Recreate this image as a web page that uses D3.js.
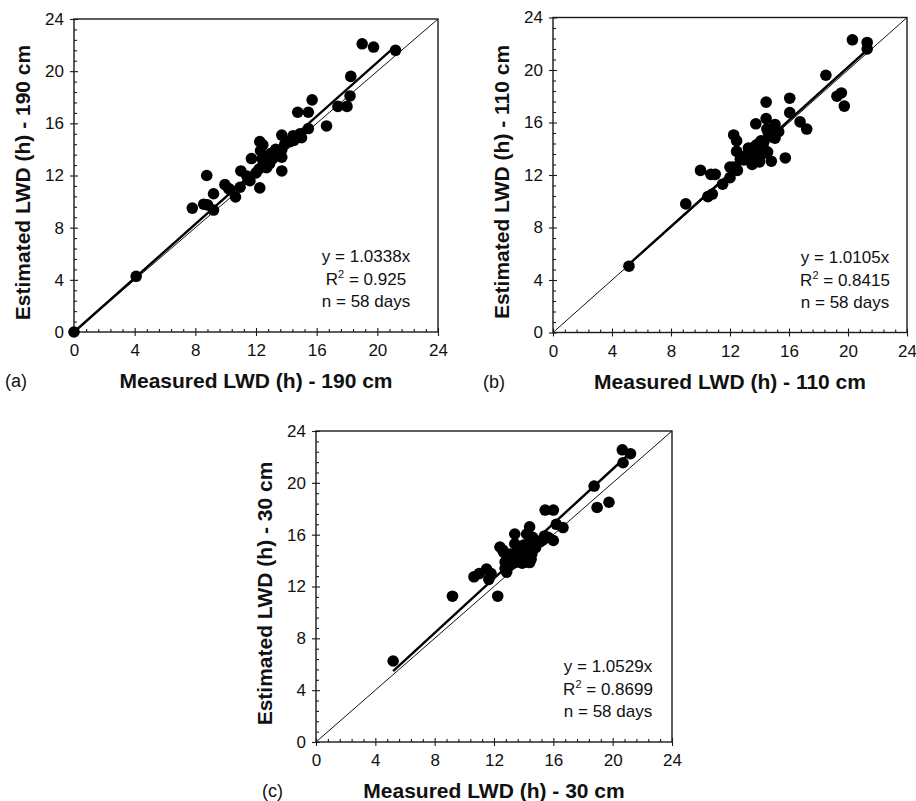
<!DOCTYPE html>
<html><head><meta charset="utf-8">
<script src="https://cdn.jsdelivr.net/npm/d3@7"></script>
<style>body{margin:0;background:#fff} svg{display:block;font-family:Arial,"Liberation Sans",sans-serif}</style>
</head><body><svg id="chart" width="916" height="801"></svg>
<script>
// ---- data ----
const majorTicks = [0, 4, 8, 12, 16, 20, 24];
const minorStep = 0.8;

const measuredA  = [0,4.1,7.8,8.55,8.75,8.8,9.2,9.2,9.95,10.3,10.65,10.95,11.0,11.4,11.6,11.7,12.25,12.25,12.45,12.3,12.45,12.6,12.8,13.1,12.4,13.7,13.7,13.7,13.7,13.9,14.25,14.45,14.7,15.0,14.75,15.45,15.45,15.7,16.65,17.4,18.0,18.2,18.25,19.0,19.75,21.2,12.9,14.1,13.3,12.0,11.5,14.9,12.7,13.5,10.2,14.5,12.2,13.0];
const estimatedA = [0,4.27,9.5,9.8,12.0,9.75,10.6,9.35,11.3,10.9,10.35,11.1,12.35,11.95,11.6,13.3,11.05,14.6,14.35,13.9,12.75,13.1,13.45,13.3,13.3,15.1,13.4,12.35,14.0,14.4,14.6,15.05,14.9,14.9,16.85,16.85,15.6,17.8,15.8,17.3,17.3,18.1,19.6,22.1,21.85,21.6,12.9,14.6,14.0,12.2,11.7,15.2,12.6,13.8,11.0,14.7,12.5,13.7];

const measuredB  = [5.15,9.0,10.0,10.7,11.0,10.5,10.8,11.5,12.0,12.0,12.25,12.5,12.25,12.45,12.45,13.25,12.95,13.5,13.75,13.8,14.05,14.0,14.3,14.45,14.45,14.5,14.55,14.8,14.85,15.05,15.05,15.3,15.75,16.05,16.05,16.75,17.2,18.5,19.25,19.55,19.75,20.3,21.3,21.3,13.5,13.8,14.1,13.3,14.2,13.9,14.6,13.1,14.9,13.6,14.3,12.7,15.0,13.95];
const estimatedB = [5.05,9.8,12.35,12.05,12.05,10.35,10.55,11.3,11.8,12.6,12.6,12.35,15.05,14.6,13.8,14.05,13.15,12.8,15.9,13.15,13.9,13.0,14.55,17.55,16.3,15.5,13.75,13.05,14.9,15.85,14.8,15.3,13.3,17.85,16.75,16.05,15.5,19.6,18.0,18.25,17.25,22.3,22.1,21.6,13.5,14.3,14.6,13.2,13.6,13.7,15.2,13.5,15.0,14.1,14.0,13.2,15.5,14.0];

const measuredC  = [5.2,9.2,10.65,11.0,11.5,11.65,12.25,12.4,12.65,12.75,12.75,12.85,13.4,13.4,13.55,13.75,13.9,14.2,14.4,14.4,14.55,14.65,15.1,15.45,16.0,15.65,16.0,16.2,16.65,18.75,18.95,19.75,20.65,21.2,20.7,13.0,13.2,13.6,14.0,13.3,14.1,13.8,14.8,13.5,14.3,12.9,13.7,14.0,15.4,14.6,13.1,13.9,14.5,12.6,15.3,14.2,13.4,11.8];
const estimatedC = [6.25,11.25,12.75,13.0,13.35,12.55,11.25,15.05,14.65,13.9,13.4,13.1,16.05,15.3,14.65,13.9,14.3,16.05,16.6,13.85,14.5,15.3,15.45,17.9,17.9,15.8,15.55,16.8,16.55,19.75,18.1,18.5,22.55,22.25,21.55,13.6,14.2,14.0,14.8,13.8,13.9,15.0,15.0,13.9,15.3,13.8,14.6,15.2,15.9,15.8,14.5,13.8,14.1,14.8,15.6,14.3,14.4,13.0];

const panelLetters = ["(a)", "(b)", "(c)"];
const depths = ["190 cm", "110 cm", "30 cm"];
const slopes = [1.0338, 1.0105, 1.0529];
const r2Labels = ["0.925", "0.8415", "0.8699"];
const nDays = [58, 58, 58];

// ---- layout ----
const boxes = [
  {l: 74,  r: 438, t: 19,  b: 332},
  {l: 553, r: 907, t: 17.5, b: 332.5},
  {l: 316, r: 672, t: 431, b: 742}
];
const letterX = [5, 483, 262];

const svg = d3.select("#chart");
const minorTicks = d3.range(0, 24.0001, minorStep).filter(v => Math.abs(v/4 - Math.round(v/4)) > 1e-6);

const datasets = [
  [measuredA, estimatedA],
  [measuredB, estimatedB],
  [measuredC, estimatedC]
];

datasets.forEach(([xs, ys], i) => {
  const box = boxes[i];
  const x = d3.scaleLinear().domain([0, 24]).range([box.l, box.r]);
  const y = d3.scaleLinear().domain([0, 24]).range([box.b, box.t]);
  const g = svg.append("g");

  // frame
  g.append("rect").attr("x", box.l).attr("y", box.t)
    .attr("width", box.r - box.l).attr("height", box.b - box.t)
    .attr("fill", "none").attr("stroke", "#1a1a1a").attr("stroke-width", 1.4);

  // x axis: outward major with labels
  const xa = g.append("g").attr("transform", `translate(0,${box.b})`)
    .call(d3.axisBottom(x).tickValues(majorTicks).tickSizeInner(4).tickSizeOuter(0).tickPadding(8).tickFormat(d3.format("d")));
  const xin = g.append("g").attr("transform", `translate(0,${box.b})`)
    .call(d3.axisBottom(x).tickValues(majorTicks).tickSizeInner(-4).tickSizeOuter(0).tickFormat(""));
  const xmin = g.append("g").attr("transform", `translate(0,${box.b})`)
    .call(d3.axisBottom(x).tickValues(minorTicks).tickSizeInner(-3).tickSizeOuter(0).tickFormat(""));

  const ya = g.append("g").attr("transform", `translate(${box.l},0)`)
    .call(d3.axisLeft(y).tickValues(majorTicks).tickSizeInner(4).tickSizeOuter(0).tickPadding(6).tickFormat(d3.format("d")));
  const yin = g.append("g").attr("transform", `translate(${box.l},0)`)
    .call(d3.axisLeft(y).tickValues(majorTicks).tickSizeInner(-4).tickSizeOuter(0).tickFormat(""));
  const ymin = g.append("g").attr("transform", `translate(${box.l},0)`)
    .call(d3.axisLeft(y).tickValues(minorTicks).tickSizeInner(-3).tickSizeOuter(0).tickFormat(""));

  [xa, xin, xmin, ya, yin, ymin].forEach(a => {
    a.select(".domain").remove();
    a.selectAll("line").attr("stroke", "#1a1a1a").attr("stroke-width", 1.1);
    a.selectAll("text").attr("font-size", 17).attr("fill", "#111")
      .attr("font-family", "Arial, 'Liberation Sans', sans-serif");
  });

  // 1:1 line
  g.append("line").attr("x1", x(0)).attr("y1", y(0)).attr("x2", x(24)).attr("y2", y(24))
    .attr("stroke", "#111").attr("stroke-width", 1);

  // regression line over data range
  const xMin = d3.min(xs), xMax = d3.max(xs);
  g.append("line").attr("x1", x(xMin)).attr("y1", y(slopes[i] * xMin))
    .attr("x2", x(xMax)).attr("y2", y(slopes[i] * xMax))
    .attr("stroke", "#000").attr("stroke-width", 2.4);

  // points
  g.append("g").selectAll("circle").data(xs.map((v, k) => [v, ys[k]])).join("circle")
    .attr("cx", d => x(d[0])).attr("cy", d => y(d[1])).attr("r", 5.8).attr("fill", "#000");

  // annotation
  const ax = box.l + 292;
  const ann = g.append("g").attr("font-size", 17).attr("fill", "#111").attr("text-anchor", "middle");
  ann.append("text").attr("x", ax).attr("y", box.b - 70).text(`y = ${slopes[i].toFixed(4)}x`);
  const r2 = ann.append("text").attr("x", ax).attr("y", box.b - 47);
  r2.append("tspan").text("R");
  r2.append("tspan").attr("dy", -7).attr("font-size", 11).text("2");
  r2.append("tspan").attr("dy", 7).text(` = ${r2Labels[i]}`);
  ann.append("text").attr("x", ax).attr("y", box.b - 25).text(`n = ${nDays[i]} days`);

  // axis titles
  g.append("text").attr("x", (box.l + box.r) / 2).attr("y", box.b + 56)
    .attr("text-anchor", "middle").attr("font-size", 21).attr("font-weight", "bold").attr("fill", "#111")
    .text(`Measured LWD (h) - ${depths[i]}`);
  const cy = (box.t + box.b) / 2 + 7;
  g.append("text").attr("transform", `translate(${box.l - 44},${cy}) rotate(-90)`)
    .attr("text-anchor", "middle").attr("font-size", 21).attr("font-weight", "bold").attr("fill", "#111")
    .text(`Estimated LWD (h) - ${depths[i]}`);

  // panel letter
  g.append("text").attr("x", letterX[i]).attr("y", box.b + 55)
    .attr("font-size", 18).attr("fill", "#111").text(panelLetters[i]);
});
</script></body></html>
